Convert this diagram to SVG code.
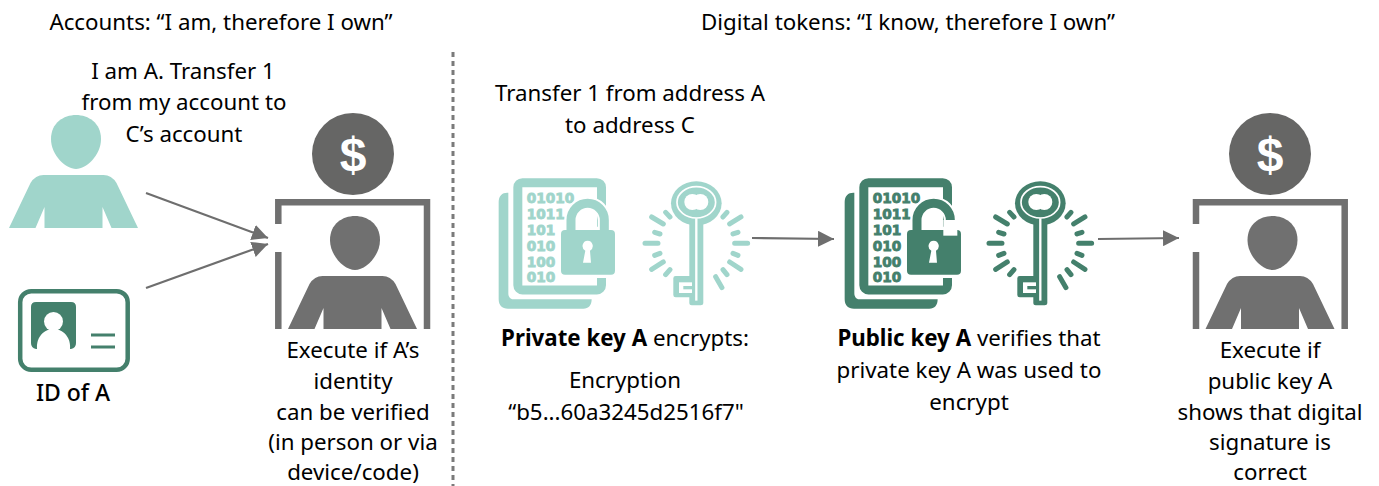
<svg xmlns="http://www.w3.org/2000/svg" width="1379" height="486" viewBox="0 0 1379 486">
<style>
text{font-family:"Noto Sans","Open Sans","Liberation Sans",sans-serif;font-size:22.3px;fill:#000;text-anchor:middle}
.b{font-weight:700}
.idl{font-size:23px;font-weight:500}
.bin{font-family:"DejaVu Sans",sans-serif;font-weight:700;font-size:41px;fill:currentColor;stroke:currentColor;stroke-width:2.5;text-anchor:start}
.dollar{font-family:"Liberation Sans",sans-serif;font-weight:700;font-size:48px;fill:#fff}
.conn{stroke:#6e6e6e;stroke-width:2.2;fill:none}
.frame{stroke:#707070;stroke-width:6.5;fill:none}
.light{color:#a0d5cb}
.dark{color:#44806c}
</style>
<defs>
<marker id="ah" viewBox="0 0 10 10" refX="10" refY="5" markerWidth="16" markerHeight="16" markerUnits="userSpaceOnUse" orient="auto"><path d="M0 0L10 5L0 10Z" fill="#6e6e6e"/></marker>
<g id="person">
<path d="M-22.5 24C-22.5 8-10 0 2.5 0C15 0 27.5 8 27.5 24C27.5 40 13 54 2.5 54C-8 54-22.5 40-22.5 24Z"/>
<path d="M-64.5 113L-43 68Q-38 60-30 60H30Q38 60 43 68L64.5 113H38L29 92V113H-29V92L-38 113Z"/>
</g>
<g id="pages">
<path fill="currentColor" d="M52 68C36 68 26 78 26 96V388C26 406 36 416 54 416H280C296 416 305 406 305 388H70C60 388 55 380 55 370V68Z"/>
<rect x="83.500" y="38" width="251" height="322" rx="14" fill="#fff" stroke="currentColor" stroke-width="27"/>
</g>
<g id="key">
<g stroke="currentColor" stroke-width="15" stroke-linecap="round" fill="none">
<path d="M485 141L520 162M527 127L540 141M494 187L510 192M465 220H504M494 256L510 250M485 298L520 276M527 314L540 299M753 141L719 162M711 127L699 141M744 187L729 192M773 220H734M744 256L729 250M753 298L719 276M711 314L699 299M696 353L677 320"/>
</g>
<ellipse cx="619" cy="100" rx="76" ry="66" fill="currentColor"/>
<ellipse cx="619" cy="97" rx="58" ry="47" fill="none" stroke="#fff" stroke-width="5"/>
<circle cx="607" cy="96" r="24" fill="#fff"/><circle cx="631" cy="96" r="24" fill="#fff"/>
<path fill="currentColor" d="M598 155V318H557Q550 318 550 325V375Q550 382 557 382H598V400Q598 406 605 406H632Q640 406 640 400V155Z"/>
<path d="M619 145V392" stroke="#fff" stroke-width="7"/>
<path d="M567 337H606V369H567Z" fill="#fff"/>
<path d="M580 348H606V358H580Z" fill="currentColor"/>
</g>
<path id="keyhole" fill="#fff" d="M293 212A16 16 0 0 1 300 242L303 278H279L286 242A16 16 0 0 1 293 212Z"/>
</defs>

<text x="221" y="30">Accounts: “I am, therefore I own”</text>
<text x="908" y="30">Digital tokens: “I know, therefore I own”</text>
<path d="M453 52V486" stroke="#7a7a7a" stroke-width="3" stroke-dasharray="5 4" fill="none"/>

<g id="sender">
<use href="#person" x="73.500" y="115" fill="#a0d5cb"/>
<text x="183" y="79">I am A. Transfer 1</text>
<text x="184" y="110">from my account to</text>
<text x="184" y="142">C’s account</text>
</g>

<g id="id-card">
<rect x="20.200" y="291.200" width="107.500" height="78.500" rx="11" fill="#fff" stroke="#44806c" stroke-width="4.500"/>
<path d="M36 302H71Q76 302 76 307V343Q76 348 71 349H36Q31 348 31 343V307Q31 302 36 302Z" fill="#44806c"/>
<circle cx="53.500" cy="321.500" r="9.500" fill="#fff"/>
<path d="M37 349C36 337 44 329 53.500 329C63 329 71 337 70 349Z" fill="#fff"/>
<path d="M91 335H115M91 347H115" stroke="#44806c" stroke-width="3" fill="none"/>
<text class="idl" x="73" y="401">ID of A</text>
</g>

<g id="bank-left">
<circle cx="353" cy="154" r="41" fill="#666665"/>
<text class="dollar" x="353" y="171">$</text>
<path class="frame" d="M278.300 224V202.300H427V329M278.300 252V329"/>
<use href="#person" x="352.500" y="216" fill="#707070"/>
<text x="353" y="358">Execute if A’s</text>
<text x="353" y="388.500">identity</text>
<text x="353" y="419.500">can be verified</text>
<text x="353" y="450">(in person or via</text>
<text x="353" y="479.500">device/code)</text>
</g>

<g id="private-key" class="light">
<g transform="translate(490 170) scale(.3333)">
<use href="#pages"/>
<text class="bin" x="110" y="100">01010</text>
<text class="bin" x="110" y="147">1011</text>
<text class="bin" x="110" y="195">101</text>
<text class="bin" x="110" y="243">010</text>
<text class="bin" x="110" y="290">100</text>
<text class="bin" x="110" y="335">010</text>
<path d="M243 190V150A50 50 0 0 1 343 150V190" fill="none" stroke="#fff" stroke-width="39"/>
<rect x="213" y="180" width="162" height="134" rx="12" fill="#fff" stroke="#fff" stroke-width="20"/>
<path d="M243 190V150A50 50 0 0 1 343 150V190" fill="none" stroke="currentColor" stroke-width="27"/>
<rect x="213" y="180" width="162" height="134" rx="12" fill="currentColor"/>
<use href="#keyhole"/>
<use href="#key"/>
</g>
<text x="630" y="101">Transfer 1 from address A</text>
<text x="630" y="133">to address C</text>
<text x="625" y="346"><tspan class="b">Private key A</tspan> encrypts:</text>
<text x="625" y="388">Encryption</text>
<text x="626" y="420">“b5...60a3245d2516f7"</text>
</g>

<g id="public-key" class="dark">
<g transform="translate(836 170) scale(.3333)">
<use href="#pages"/>
<text class="bin" x="110" y="100">01010</text>
<text class="bin" x="110" y="147">1011</text>
<text class="bin" x="110" y="195">101</text>
<text class="bin" x="110" y="243">010</text>
<text class="bin" x="110" y="290">100</text>
<text class="bin" x="110" y="335">010</text>
<path d="M243 190V150A50 50 0 0 1 343 150" fill="none" stroke="#fff" stroke-width="39"/>
<rect x="213" y="180" width="162" height="134" rx="12" fill="#fff" stroke="#fff" stroke-width="20"/>
<path d="M243 190V150A50 50 0 0 1 343 150V160" fill="none" stroke="currentColor" stroke-width="27"/>
<rect x="213" y="180" width="162" height="134" rx="12" fill="currentColor"/>
<rect x="322" y="150" width="42" height="47" fill="#fff"/>
<use href="#keyhole"/>
<use href="#key" transform="translate(-6 0)"/>
</g>
<text x="969" y="346"><tspan class="b">Public key A</tspan> verifies that</text>
<text x="969" y="378">private key A was used to</text>
<text x="969" y="410">encrypt</text>
</g>

<g id="bank-right">
<circle cx="1270" cy="154" r="41" fill="#666665"/>
<text class="dollar" x="1270" y="171">$</text>
<path class="frame" d="M1196 224V202.300H1344.700V329M1196 252V329"/>
<use href="#person" x="1270" y="216" fill="#707070"/>
<text x="1270" y="358">Execute if</text>
<text x="1270" y="389">public key A</text>
<text x="1270" y="419.500">shows that digital</text>
<text x="1270" y="450">signature is</text>
<text x="1270" y="479.500">correct</text>
</g>

<g id="connectors">
<path class="conn" marker-end="url(#ah)" d="M146 193L268 238"/>
<path class="conn" marker-end="url(#ah)" d="M146 288L268 244"/>
<path class="conn" marker-end="url(#ah)" d="M752 238L834 239"/>
<path class="conn" marker-end="url(#ah)" d="M1098 239L1179 238"/>
</g>
</svg>
